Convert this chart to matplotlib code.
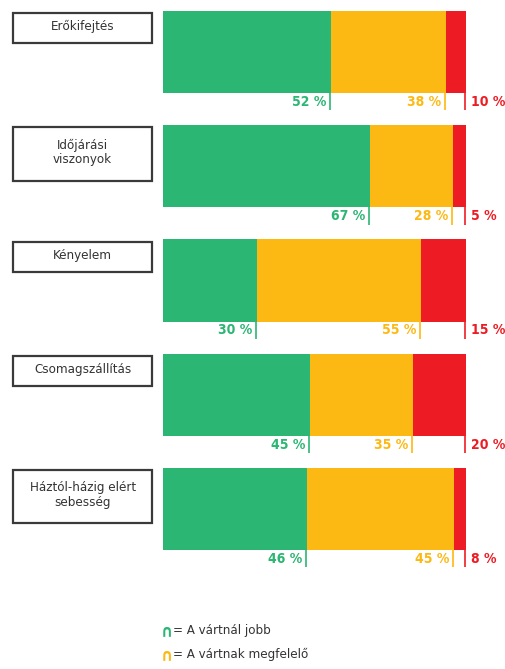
import matplotlib
matplotlib.use("Agg")
import matplotlib.pyplot as plt
from matplotlib.patches import Rectangle

plt.rcParams['font.family'] = ['DejaVu Sans']

categories = ["Erőkifejtés", "Időjárási\nviszonyok", "Kényelem", "Csomagszállítás",
              "Háztól-házig elért\nsebesség"]
# percentages printed under the bars
better = [52, 67, 30, 45, 46]
as_expected = [38, 28, 55, 35, 45]
worse = [10, 5, 15, 20, 8]
# bar segment lengths as drawn (share of the full bar)
better_len = [55.4, 68.3, 31.0, 48.5, 47.5]
expected_len = [38.0, 27.4, 54.1, 34.0, 48.5]
worse_len = [6.6, 4.3, 14.9, 17.5, 4.0]
legend_labels = ["A vártnál jobb", "A vártnak megfelelő", "A vártnál rosszabb"]

colors = ["#2bb673", "#fdb913", "#ed1c24"]
box_color = "#3a3a3a"


def main():
    fig = plt.figure(figsize=(5.06, 6.69), dpi=100)
    ax = fig.add_axes([0, 0, 1, 1])
    ax.set_xlim(-53.8, 113.2)
    ax.set_ylim(5.76, -0.096)
    ax.axis("off")

    h = 0.72
    series = [better, as_expected, worse]
    lengths = [better_len, expected_len, worse_len]
    for i, cat in enumerate(categories):
        left = 0
        for j in range(3):
            w = lengths[j][i]
            ax.barh(i + h / 2, w, left=left, height=h, color=colors[j],
                    edgecolor="none")
            end = left + w
            # small tick line under the bar
            ax.plot([end - 0.3, end - 0.3], [i + h, i + h + 0.15],
                    color=colors[j], lw=1.2, solid_capstyle="butt")
            label = f"{series[j][i]} %"
            if j < 2:
                ax.text(end - 1.6, i + h + 0.075, label, color=colors[j],
                        ha="right", va="center", fontsize=10, fontweight="bold",
                        fontstretch="condensed")
            else:
                ax.text(end + 1.5, i + h + 0.075, label, color=colors[j],
                        ha="left", va="center", fontsize=10, fontweight="bold",
                        fontstretch="condensed")
            left = end

        two_lines = "\n" in cat
        bh = 0.464 if two_lines else 0.263
        box = Rectangle((-49.5, i + 0.02), 45.9, bh, fill=False,
                        edgecolor=box_color, lw=1.6)
        ax.add_patch(box)
        ax.text(-49.5 + 45.9 / 2, i + 0.02 + bh / 2 - 0.015, cat, ha="center",
                va="center", fontsize=9.5, color="#333333", linespacing=1.15,
                fontstretch="condensed")

    # legend
    for k, lab in enumerate(legend_labels):
        y = 5.425 + k * 0.21
        ax.text(-0.9, y, "∩", color=colors[k], ha="left", va="center",
                fontsize=12, fontweight="bold", fontstretch="condensed")
        ax.text(3.4, y, "= " + lab, color="#333333", ha="left", va="center",
                fontsize=9.5, fontstretch="condensed")

    fig.savefig("out.png", dpi=100)


if __name__ == "__main__":
    main()
